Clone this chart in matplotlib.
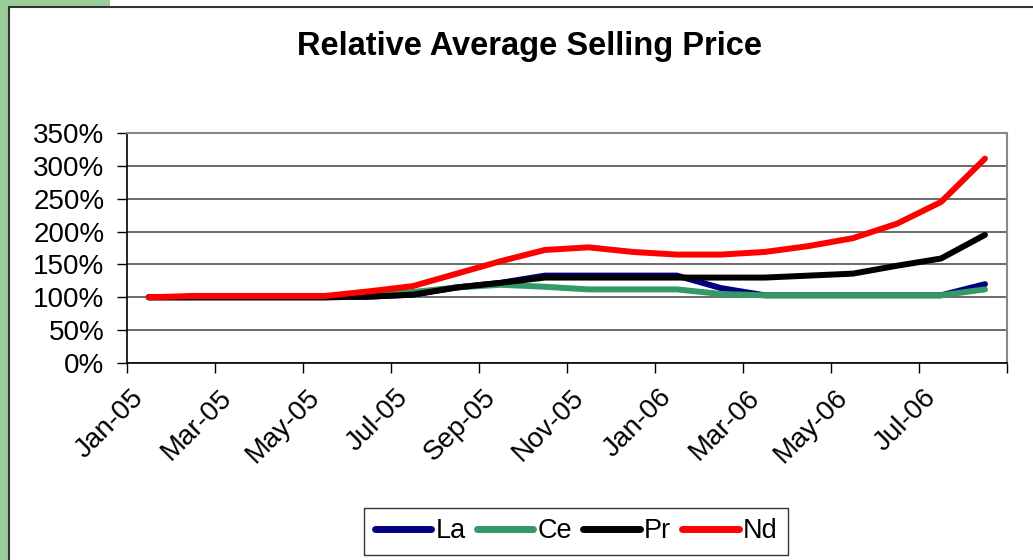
import matplotlib
matplotlib.use("Agg")
import matplotlib.pyplot as plt
from matplotlib.patches import Rectangle
from matplotlib.lines import Line2D
from matplotlib.ticker import FuncFormatter
from matplotlib.transforms import ScaledTranslation

plt.rcParams["font.family"] = ["Liberation Sans", "DejaVu Sans"]

months = ["Jan-05", "Feb-05", "Mar-05", "Apr-05", "May-05", "Jun-05", "Jul-05",
          "Aug-05", "Sep-05", "Oct-05", "Nov-05", "Dec-05", "Jan-06", "Feb-06",
          "Mar-06", "Apr-06", "May-06", "Jun-06", "Jul-06", "Aug-06"]

# relative price, % of Jan-05
la = [100, 100, 100, 100, 100, 101, 104, 115, 122, 133, 133, 133, 133, 114,
      103, 103, 103, 103, 103, 120]
ce = [100, 100, 100, 100, 100, 104, 108, 115, 119, 116, 112, 112, 112, 105,
      103, 103, 103, 103, 103, 112]
pr = [100, 100, 100, 100, 100, 101, 104, 115, 122, 130, 130, 130, 130, 130,
      130, 133, 136, 148, 159, 195]
nd = [100, 102, 102, 102, 102, 109, 117, 136, 155, 172, 176, 169, 165, 165,
      169, 178, 190, 212, 245, 311]

series = [("La", la, "#000080"), ("Ce", ce, "#339966"),
          ("Pr", pr, "#000000"), ("Nd", nd, "#FF0000")]

W, H = 1033, 560
fig = plt.figure(figsize=(W / 100, H / 100), dpi=100, facecolor="white")

# green frame remnants of the slide background
green = "#99CC99"
fig.patches.append(Rectangle((0, 0), 8 / W, 1, transform=fig.transFigure,
                             facecolor=green, edgecolor="none", zorder=0))
fig.patches.append(Rectangle((0, 1 - 6 / H), 110 / W, 6 / H, transform=fig.transFigure,
                             facecolor=green, edgecolor="none", zorder=0))
fig.add_artist(Line2D([8.5 / W, 8.5 / W], [0, 1 - 6.5 / H], transform=fig.transFigure,
                      color="#333333", lw=1.5))
fig.add_artist(Line2D([8.5 / W, 1], [1 - 6.5 / H, 1 - 6.5 / H], transform=fig.transFigure,
                      color="#333333", lw=1.5))

ax = fig.add_axes([126.7 / W, 1 - 363 / H, (1007 - 126.7) / W, (363 - 133) / H])
x = list(range(len(months)))
for name, vals, color in series:
    ax.plot(x, vals, color=color, lw=4.3, label=name,
            solid_capstyle="round", solid_joinstyle="round", zorder=3)

ax.set_xlim(-0.5, len(months) - 0.5)
ax.set_ylim(0, 350)
ax.set_yticks(range(0, 351, 50))
ax.yaxis.set_major_formatter(FuncFormatter(lambda v, p: f"{v:.0f}%"))
ax.grid(axis="y", color="#444444", lw=1.1)
ax.set_axisbelow(True)

# tick marks between every second category, labels on every second category
ax.set_xticks([i - 0.5 for i in range(0, len(months) + 1, 2)])
ax.set_xticklabels([])
ax.set_xticks(x[::2], minor=True)
ax.set_xticklabels(months[::2], minor=True, rotation=45, ha="right", va="center",
                   rotation_mode="anchor", fontsize=20)
ax.tick_params(axis="x", which="minor", length=0, pad=22)
ax.tick_params(axis="x", which="major", length=7, width=1, direction="out")
ax.tick_params(axis="y", length=7, width=1, direction="out", labelsize=20, pad=9)
shift = ScaledTranslation(-9 / 100, 0, fig.dpi_scale_trans)
for lbl in ax.get_xticklabels(minor=True):
    lbl.set_transform(lbl.get_transform() + shift)

for side in ("top", "right"):
    ax.spines[side].set_color("#888888")
    ax.spines[side].set_linewidth(1.5)
for side in ("left", "bottom"):
    ax.spines[side].set_color("black")
    ax.spines[side].set_linewidth(1.2)

fig.text(529.5 / W, 1 - 47 / H, "Relative Average Selling Price",
         ha="center", va="center", fontsize=23.5, fontweight="bold")

leg = fig.legend(loc="center", bbox_to_anchor=(576 / W, 1 - 531.5 / H), ncol=4,
                 fontsize=19.5, handlelength=2.1, handletextpad=0.15,
                 columnspacing=0.4, frameon=True, fancybox=False,
                 borderpad=0.4, borderaxespad=0)
leg.get_frame().set_edgecolor("black")
leg.get_frame().set_linewidth(1.0)
for h in leg.get_lines():
    h.set_linewidth(5)

fig.savefig("out.png", dpi=100, facecolor=fig.get_facecolor())
